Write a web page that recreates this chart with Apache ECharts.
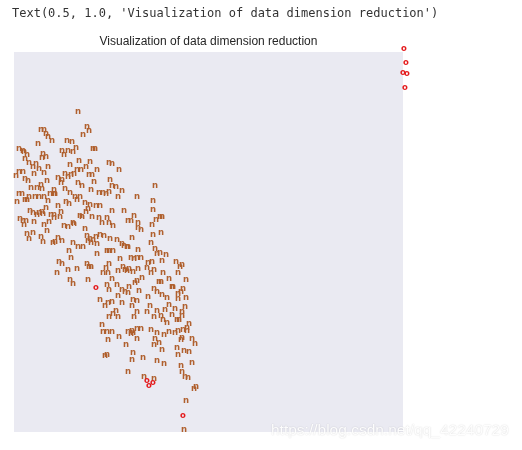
<!DOCTYPE html>
<html>
<head>
<meta charset="utf-8">
<script src="https://cdn.jsdelivr.net/npm/echarts@6/dist/echarts.min.js"></script>
<style>
html,body{margin:0;padding:0;background:#fff;}
#chart{width:522px;height:450px;}
</style>
</head>
<body>
<div id="chart"></div>
<script>
// Embedding coordinates (arbitrary units), label "n"
const nPoints = [
[64,320],[27,302],[30,302],[32,298],[34,295],[73,305],[75,301],[69,297],[38,291],[24,288],
[53,291],[58,290],[62,284],[5,283],[9,281],[10,280],[13,277],[11,273],[48,281],[54,281],
[59,280],[50,277],[29,278],[28,274],[32,275],[79,283],[81,283],[15,269],[19,265],[22,268],
[25,263],[34,265],[30,259],[20,258],[65,271],[76,270],[56,267],[95,269],[98,268],[72,265],
[63,262],[67,262],[83,262],[105,262],[5,260],[9,260],[2,256],[51,258],[54,255],[57,257],
[60,258],[44,254],[48,252],[47,249],[75,257],[78,257],[11,253],[14,251],[33,251],[64,249],
[68,246],[80,250],[96,252],[98,246],[102,245],[108,241],[77,242],[85,239],[89,239],[92,238],
[95,240],[27,247],[23,244],[28,243],[17,244],[5,238],[8,238],[36,238],[40,238],[41,238],
[40,242],[51,243],[56,239],[123,235],[104,235],
[3,230],[11,232],[13,232],[15,235],[21,235],[25,235],[30,235],[34,231],[61,235],[66,235],
[52,230],[55,228],[44,226],[63,232],[71,229],[76,227],[74,223],[72,220],[82,226],[86,226],
[16,221],[19,219],[25,219],[28,220],[29,218],[32,224],[23,217],[6,213],[9,211],[12,211],
[10,207],[20,210],[37,217],[40,217],[40,214],[46,215],[47,220],[35,210],[30,207],[50,206],
[54,205],[59,209],[60,208],[66,216],[68,215],[78,215],[85,214],[88,209],[93,214],[95,209],
[99,206],[98,221],[110,221],[114,211],[117,211],[120,216],[124,209],[124,204],[71,203],[13,198],
[19,199],[15,193],[33,201],[27,195],[29,190],[39,189],[41,190],[44,194],[48,191],[73,196],
[74,191],[77,189],[76,193],[79,192],[82,195],[86,197],[90,196],[83,188],[96,193],[103,192],
[59,189],[64,185],[69,185],[55,181],[108,188],[110,186],[113,185],[114,185],[118,194],[93,181],
[95,181],[99,181],[83,178],[57,174],[106,173],[117,174],[120,173],[123,174],[124,182],[45,170],
[48,168],[43,159],[54,162],[63,163],[73,168],[75,165],[77,165],[95,168],[92,164],[89,159],
[94,159],[104,161],[109,165],[111,162],[113,161],[115,163],[119,160],[124,163],[56,152],[59,148],
[74,152],[98,153],[93,147],[103,147],[115,145],[121,149],[123,151],
[141,246],[139,231],[139,222],[146,215],[148,215],[142,212],[138,207],[127,202],[147,199],[139,197],
[137,189],[141,183],
[143,178],[146,179],[152,177],[127,174],[148,171],[134,169],[138,170],[162,170],[166,165],[168,167],
[133,164],[140,162],[137,159],[149,159],[164,159],[128,154],[155,153],[172,152],[145,150],[147,150],
[158,145],[159,145],[140,143],[143,140],[125,141],[169,143],[167,140],[164,138],[164,133],[148,137],
[153,134],[172,134],[134,135],[119,132],[123,131],[118,126],[155,127],[161,123],[136,126],[171,125],
[123,120],[133,120],[143,121],[147,116],[151,122],[168,120],[140,115],[120,115],[158,117],[168,116],
[165,112],[163,112],[149,112],[153,109],[175,108],[137,102],[123,103],[127,103],[143,99],[150,97],
[155,100],[161,99],[164,101],[168,94],[178,93],[123,93],[141,93],
[95,142],[108,142],[111,140],[114,139],[104,136],[86,132],[91,126],[94,129],[98,130],[108,129],
[102,121],[99,118],[95,115],[104,115],
[88,107],[89,100],[93,100],[98,100],[114,100],[118,101],[117,98],[119,99],[169,102],[173,104],
[173,101],[105,95],[94,92],[140,87],[145,89],[167,92],[181,88],[112,87],[119,79],[129,74],
[148,82],[163,84],[164,77],[170,81],[175,80],[91,76],[93,77],[118,72],[143,71],[150,68],
[167,66],[168,60],[178,69],[114,60],[130,55],[140,53],[171,55],[174,54],[182,45],[180,43],
[172,31],[170,2]
];
// label "o"
const oPoints = [
[82,144],[133,51],[135,46],[139,49],[169,16],
[390,383],[392,369],[389,359],[393,358],[391,344]
];
const titleText = 'Visualization of data dimension reduction';
const reprText = "Text(0.5, 1.0, 'Visualization of data dimension reduction')";
const watermark = 'https://blog.csdn.net/qq_42240729';

function textSeries(data, label, color) {
  return {
    type: 'custom',
    clip: false,
    data: data,
    renderItem: function (params, api) {
      const p = api.coord([api.value(0), api.value(1)]);
      return {
        type: 'text',
        x: p[0], y: p[1],
        style: {
          text: label,
          fill: color,
          font: 'bold 8.5px "DejaVu Sans"',
          align: 'center', verticalAlign: 'middle',
          textAlign: 'center', textVerticalAlign: 'middle'
        }
      };
    }
  };
}

const chart = echarts.init(document.getElementById('chart'), null, {renderer: 'canvas'});
chart.setOption({
  animation: false,
  backgroundColor: '#ffffff',
  grid: {left: 14, top: 52, width: 389, height: 380, show: true, backgroundColor: '#eaeaf2', borderWidth: 0},
  xAxis: {type: 'value', min: 0, max: 389, show: false},
  yAxis: {type: 'value', min: 0, max: 380, show: false},
  graphic: [
    {type: 'text', left: 12, top: 8, z: 10, style: {text: reprText, fill: '#333333', font: '12px "DejaVu Sans Mono"'}},
    {type: 'text', x: 208.5, y: 42, z: 10, style: {text: titleText, fill: '#262626', font: '12px "Liberation Sans"', align: 'center', verticalAlign: 'middle', textAlign: 'center', textVerticalAlign: 'middle'}},
    {type: 'text', x: 271, y: 431, z: 20, style: {text: watermark, fill: 'rgba(255,255,255,0.95)', font: '15.5px "Liberation Sans"', verticalAlign: 'middle', textVerticalAlign: 'middle', textShadowColor: 'rgba(0,0,0,0.2)', textShadowBlur: 1.5}}
  ],
  series: [
    textSeries(nPoints, 'n', '#b0602e'),
    textSeries(oPoints, 'o', '#e41a1c')
  ]
});
</script>
</body>
</html>
